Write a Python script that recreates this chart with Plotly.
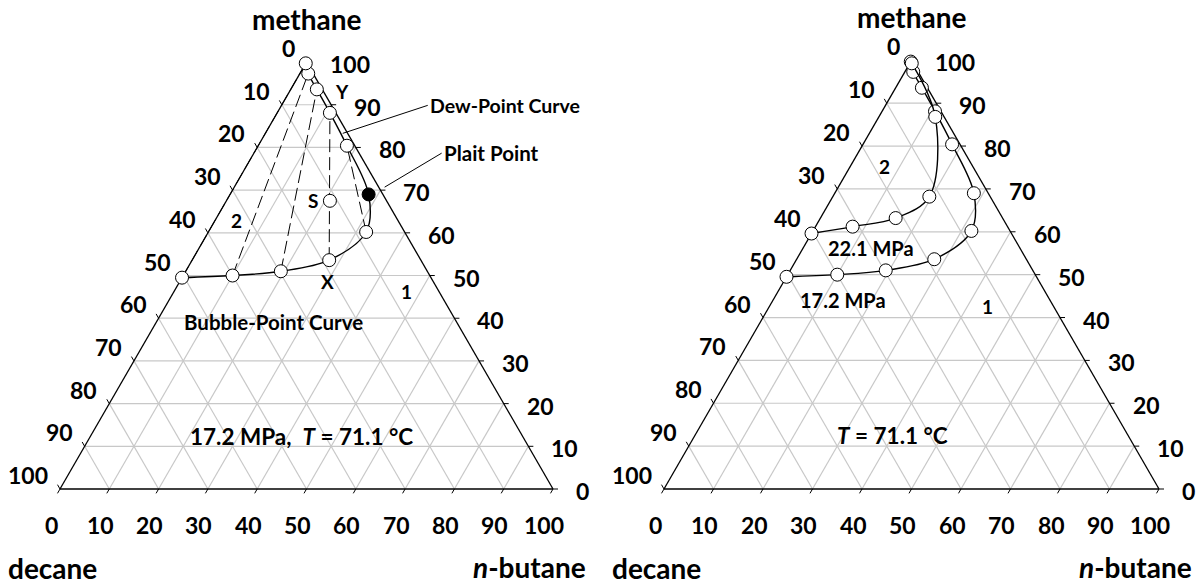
import math
import plotly.graph_objects as go

# ---------------- data (mole %) ----------------
TICK_VALUES = [0, 10, 20, 30, 40, 50, 60, 70, 80, 90, 100]

# Left panel: 17.2 MPa, T = 71.1 C
bubble_methane = [49.5, 50.0, 51.0, 53.6, 60.2]
bubble_butane = [0.0, 10.0, 19.3, 27.8, 32.0]
plait_methane = [69.0]
plait_butane = [28.1]
dew_methane = [80.4, 88.1, 93.6, 97.3, 99.7]
dew_butane = [18.0, 10.7, 5.3, 1.7, 0.0]
overall_methane = [67.5]   # point S
overall_butane = [21.0]
tie_bubble_idx = [0, 1, 2, 3, 4]
tie_dew_idx = [4, 3, 2, 1, 0]

# Right panel: 22.1 MPa envelope (17.2 MPa envelope is the same as left)
p221_methane = [59.6, 61.2, 63.2, 68.2, 86.8, 99.3]
p221_butane = [0.0, 7.5, 15.2, 19.5, 11.4, 0.4]

# ---------------- geometry ----------------
FIG_W, FIG_H = 1198, 585
BASE_PX = 489
SQ = math.sqrt(3) / 2
panels = [
    dict(xa="x", ya="y", dom=[0.0, 0.5], x0=60, w=493),
    dict(xa="x2", ya="y2", dom=[0.5, 1.0], x0=664, w=495),
]


def xy(meth, but):
    xs = [c / 100 + m / 200 for m, c in zip(meth, but)]
    ys = [m / 100 * SQ for m in meth]
    return xs, ys


FONT = "Lato"
fig = go.Figure()
annotations = []


def txt(p, m, c, text, size, **kw):
    x, y = xy([m], [c])
    d = dict(x=x[0], y=y[0], xref=p["xa"], yref=p["ya"], text=text, showarrow=False,
             font=dict(family=FONT, size=size, color="black", weight="bold"))
    d.update(kw)
    annotations.append(d)


def line_trace(p, segs, color, width, dash="solid"):
    xs, ys = [], []
    for (m1, c1), (m2, c2) in segs:
        sx, sy = xy([m1, m2], [c1, c2])
        xs += sx + [None]
        ys += sy + [None]
    fig.add_trace(go.Scatter(x=xs, y=ys, mode="lines", xaxis=p["xa"], yaxis=p["ya"],
                             line=dict(color=color, width=width, dash=dash),
                             hoverinfo="skip", showlegend=False))


for p in panels:
    # grid
    segs = []
    for v in TICK_VALUES[1:-1]:
        segs.append(((v, 0), (v, 100 - v)))
        segs.append(((0, v), (100 - v, v)))
        segs.append(((0, 100 - v), (100 - v, 0)))
    line_trace(p, segs, "#c8c8c8", 1.2)
    # frame
    line_trace(p, [((0, 0), (0, 100)), ((0, 100), (100, 0)), ((100, 0), (0, 0))], "black", 1.3)
    # ticks
    L = 5 / p["w"]
    tx, ty = [], []
    for v in TICK_VALUES:
        for (m, c), (dx, dy) in [((100 - v, 0), (-0.5, SQ)), ((0, v), (-0.5, -SQ)), ((v, 100 - v), (1, 0))]:
            x, y = xy([m], [c])
            tx += [x[0], x[0] + dx * L, None]
            ty += [y[0], y[0] + dy * L, None]
    fig.add_trace(go.Scatter(x=tx, y=ty, mode="lines", xaxis=p["xa"], yaxis=p["ya"],
                             line=dict(color="black", width=1), hoverinfo="skip", showlegend=False))
    # tick labels
    for v in TICK_VALUES:
        txt(p, 100 - v, 0, str(v), 23, xanchor="right", yanchor="middle", xshift=-10, yshift=14)
        txt(p, v, 100 - v, str(v), 23, xanchor="left", yanchor="middle", xshift=21, yshift=-2)
        txt(p, 0, v, str(v), 23, xanchor="center", yanchor="middle", xshift=-9, yshift=-36)
    # axis titles
    txt(p, 100, 0, "methane", 28, xanchor="center", yanchor="middle", yshift=43)
    txt(p, 0, 0, "decane", 28, xanchor="left", yanchor="middle", xshift=-54, yshift=-79)
    txt(p, 0, 100, "<i>n</i>-butane", 28, xanchor="right", yanchor="middle", xshift=35, yshift=-78)

circle = dict(size=13, color="white", line=dict(color="black", width=1))

# ---------------- left panel ----------------
pL = panels[0]
ties = [((bubble_methane[i], bubble_butane[i]), (dew_methane[j], dew_butane[j]))
        for i, j in zip(tie_bubble_idx, tie_dew_idx)]
line_trace(pL, ties, "black", 1, dash="13px,5px")
env_m = bubble_methane + plait_methane + dew_methane
env_c = bubble_butane + plait_butane + dew_butane
ex, ey = xy(env_m, env_c)
fig.add_trace(go.Scatter(x=ex, y=ey, mode="lines", line=dict(color="black", width=1.4, shape="spline", smoothing=1.0),
                         xaxis="x", yaxis="y", hoverinfo="skip", showlegend=False))
mx, my = xy(bubble_methane + dew_methane + overall_methane, bubble_butane + dew_butane + overall_butane)
fig.add_trace(go.Scatter(x=mx, y=my, mode="markers", marker=circle, xaxis="x", yaxis="y",
                         hoverinfo="skip", showlegend=False))
px_, py_ = xy(plait_methane, plait_butane)
fig.add_trace(go.Scatter(x=px_, y=py_, mode="markers",
                         marker=dict(size=13, color="black", line=dict(color="black", width=1)),
                         xaxis="x", yaxis="y", hoverinfo="skip", showlegend=False))

txt(pL, 93.0, 10.8, "Y", 19)
txt(pL, 67.5, 17.6, "S", 19)
txt(pL, 48.7, 30.0, "X", 19)
txt(pL, 62.8, 4.3, "2", 19)
txt(pL, 46.2, 47.2, "1", 19)
txt(pL, 39.1, 23.7, "Bubble-Point Curve", 20.5)
txt(pL, 12.2, 42.9, "17.2 MPa,\u00a0\u00a0<i>T</i> = 71.1 °C", 22.5)
dx, dy = xy([83.3], [15.7])
annotations.append(dict(x=dx[0], y=dy[0], xref="x", yref="y", text="Dew-Point Curve", showarrow=True,
                        arrowhead=0, arrowwidth=1, arrowcolor="black", ax=85, ay=-28,
                        xanchor="left", yanchor="middle",
                        font=dict(family=FONT, size=19.5, color="black", weight="bold")))
dx, dy = xy([70.7], [30.5])
annotations.append(dict(x=dx[0], y=dy[0], xref="x", yref="y", text="Plait Point", showarrow=True,
                        arrowhead=0, arrowwidth=1, arrowcolor="black", ax=57, ay=-34,
                        xanchor="left", yanchor="middle",
                        font=dict(family=FONT, size=20.5, color="black", weight="bold")))

# ---------------- right panel ----------------
pR = panels[1]
for mm, cc in [(env_m, env_c), (p221_methane, p221_butane)]:
    x, y = xy(mm, cc)
    fig.add_trace(go.Scatter(x=x, y=y, mode="lines+markers",
                             line=dict(color="black", width=1.4, shape="spline", smoothing=1.0),
                             marker=circle, xaxis="x2", yaxis="y2", hoverinfo="skip", showlegend=False))
txt(pR, 56.2, 13.8, "22.1 MPa", 20)
txt(pR, 44.1, 14.1, "17.2 MPa", 20)
txt(pR, 75.2, 7.0, "2", 19)
txt(pR, 42.5, 44.1, "1", 19)
txt(pR, 12.4, 39.9, "<i>T</i> = 71.1 °C", 22.5)

# ---------------- layout ----------------
layout = dict(width=FIG_W, height=FIG_H, margin=dict(l=0, r=0, t=0, b=0),
              paper_bgcolor="white", plot_bgcolor="white", showlegend=False,
              annotations=annotations)
for i, p in enumerate(panels):
    sfx = "" if i == 0 else "2"
    layout["xaxis" + sfx] = dict(domain=p["dom"], visible=False, fixedrange=True,
                                 range=[(p["dom"][0] * FIG_W - p["x0"]) / p["w"],
                                        (p["dom"][1] * FIG_W - p["x0"]) / p["w"]])
    layout["yaxis" + sfx] = dict(domain=[0, 1], visible=False, fixedrange=True,
                                 range=[(BASE_PX - FIG_H) / p["w"], BASE_PX / p["w"]])
fig.update_layout(**layout)
fig.write_html("out.html")
